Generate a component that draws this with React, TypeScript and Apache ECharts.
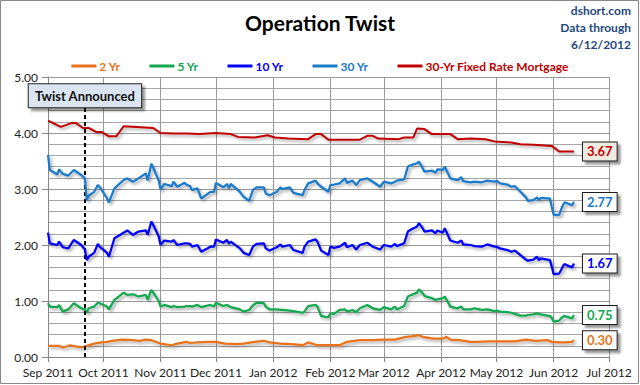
import React, { useEffect, useRef } from 'react';
import * as echarts from 'echarts';

const seriesNames = ['2 Yr', '5 Yr', '10 Yr', '30 Yr', '30-Yr Fixed Rate Mortgage'];
const seriesColors = ['#e8731c', '#13a84f', '#0000ff', '#1a7acb', '#c00000'];
const endLabelBg = ['#ffffff', '#ffffff', '#ffffff', '#ffffff', '#eeece1'];

const treasuryDates = [
  '2011-09-01', '2011-09-02', '2011-09-06', '2011-09-07', '2011-09-09', '2011-09-12', '2011-09-15', '2011-09-19',
  '2011-09-21', '2011-09-22', '2011-09-23', '2011-09-26', '2011-09-28', '2011-09-29', '2011-10-03', '2011-10-04',
  '2011-10-07', '2011-10-12', '2011-10-14', '2011-10-17', '2011-10-20', '2011-10-24', '2011-10-25', '2011-10-27',
  '2011-10-28', '2011-10-31', '2011-11-01', '2011-11-03', '2011-11-07', '2011-11-08', '2011-11-10', '2011-11-14',
  '2011-11-15', '2011-11-17', '2011-11-18', '2011-11-21', '2011-11-23', '2011-11-28', '2011-11-30', '2011-12-01',
  '2011-12-05', '2011-12-07', '2011-12-08', '2011-12-09', '2011-12-14', '2011-12-16', '2011-12-19', '2011-12-21',
  '2011-12-23', '2011-12-27', '2011-12-28', '2011-12-30', '2012-01-03', '2012-01-05', '2012-01-06', '2012-01-10',
  '2012-01-12', '2012-01-17', '2012-01-18', '2012-01-20', '2012-01-24', '2012-01-25', '2012-01-27', '2012-01-31',
  '2012-02-01', '2012-02-03', '2012-02-06', '2012-02-09', '2012-02-10', '2012-02-13', '2012-02-15', '2012-02-17',
  '2012-02-21', '2012-02-24', '2012-02-28', '2012-03-01', '2012-03-05', '2012-03-07', '2012-03-08', '2012-03-12',
  '2012-03-14', '2012-03-16', '2012-03-19', '2012-03-20', '2012-03-22', '2012-03-23', '2012-03-27', '2012-03-29',
  '2012-03-30', '2012-04-02', '2012-04-03', '2012-04-06', '2012-04-10', '2012-04-12', '2012-04-13', '2012-04-17',
  '2012-04-19', '2012-04-23', '2012-04-26', '2012-04-30', '2012-05-01', '2012-05-03', '2012-05-07', '2012-05-09',
  '2012-05-11', '2012-05-14', '2012-05-17', '2012-05-18', '2012-05-21', '2012-05-23', '2012-05-24', '2012-05-25',
  '2012-05-30', '2012-05-31', '2012-06-01', '2012-06-04', '2012-06-05', '2012-06-06', '2012-06-07', '2012-06-08',
  '2012-06-11', '2012-06-12',
];

const thirtyYr = [
  3.61, 3.34, 3.26, 3.35, 3.27, 3.24, 3.34, 3.25,
  3.19, 2.80, 2.88, 2.95, 3.07, 3.04, 2.83, 2.76,
  3.01, 3.16, 3.19, 3.13, 3.19, 3.28, 3.15, 3.45,
  3.38, 3.15, 2.99, 3.09, 3.05, 3.13, 3.04, 3.11,
  3.08, 3.05, 2.98, 3.01, 2.83, 2.95, 2.95, 3.11,
  3.03, 3.09, 3.01, 3.09, 2.95, 2.86, 2.79, 2.98,
  3.03, 3.03, 2.92, 2.89, 2.95, 3.03, 3.00, 3.03,
  2.93, 2.89, 2.98, 3.10, 3.15, 3.10, 3.04, 2.95,
  3.07, 3.08, 3.10, 3.19, 3.11, 3.15, 3.07, 3.16,
  3.19, 3.13, 3.04, 3.13, 3.10, 3.13, 3.15, 3.17,
  3.40, 3.43, 3.46, 3.49, 3.37, 3.31, 3.33, 3.29,
  3.35, 3.34, 3.40, 3.19, 3.16, 3.21, 3.14, 3.12,
  3.13, 3.12, 3.15, 3.13, 3.15, 3.10, 3.08, 3.04,
  3.05, 2.95, 2.85, 2.79, 2.80, 2.85, 2.80, 2.84,
  2.83, 2.68, 2.54, 2.54, 2.63, 2.71, 2.76, 2.75,
  2.71, 2.77,
];

const tenYr = [
  2.22, 2.03, 2.00, 2.06, 1.96, 1.94, 2.09, 2.00,
  1.92, 1.73, 1.79, 1.86, 2.02, 1.97, 1.86, 1.79,
  2.12, 2.22, 2.26, 2.18, 2.24, 2.26, 2.18, 2.42,
  2.36, 2.15, 2.00, 2.08, 2.06, 2.09, 2.00, 2.03,
  2.03, 2.02, 1.97, 2.00, 1.88, 1.97, 1.97, 2.10,
  2.04, 2.09, 2.02, 2.06, 1.94, 1.86, 1.82, 1.97,
  2.02, 2.03, 1.94, 1.90, 1.96, 2.01, 1.97, 2.00,
  1.91, 1.86, 1.97, 2.06, 2.10, 2.06, 1.90, 1.82,
  1.97, 1.95, 1.97, 2.04, 1.96, 2.00, 1.92, 2.00,
  2.04, 1.97, 1.92, 2.00, 1.97, 2.02, 1.98, 2.03,
  2.24, 2.28, 2.33, 2.39, 2.30, 2.24, 2.26, 2.21,
  2.26, 2.22, 2.30, 2.08, 2.04, 2.08, 2.01, 2.00,
  1.98, 1.97, 2.01, 1.97, 1.97, 1.94, 1.91, 1.88,
  1.90, 1.82, 1.74, 1.72, 1.74, 1.79, 1.73, 1.76,
  1.73, 1.61, 1.48, 1.49, 1.55, 1.62, 1.66, 1.64,
  1.60, 1.67,
];

const fiveYr = [
  0.96, 0.90, 0.89, 0.93, 0.81, 0.85, 0.96, 0.87,
  0.85, 0.79, 0.87, 0.90, 0.97, 0.96, 0.90, 0.85,
  1.02, 1.15, 1.11, 1.12, 1.08, 1.11, 1.02, 1.20,
  1.15, 1.00, 0.90, 0.93, 0.89, 0.91, 0.89, 0.90,
  0.91, 0.91, 0.90, 0.93, 0.89, 0.93, 0.90, 0.97,
  0.91, 0.93, 0.91, 0.89, 0.85, 0.81, 0.84, 0.92,
  0.97, 0.96, 0.90, 0.85, 0.85, 0.84, 0.84, 0.83,
  0.82, 0.79, 0.81, 0.91, 0.93, 0.90, 0.73, 0.71,
  0.78, 0.77, 0.84, 0.85, 0.81, 0.84, 0.80, 0.87,
  0.93, 0.87, 0.84, 0.89, 0.85, 0.90, 0.85, 0.91,
  1.08, 1.11, 1.15, 1.21, 1.14, 1.09, 1.05, 1.02,
  1.03, 1.05, 1.08, 0.90, 0.87, 0.90, 0.85, 0.85,
  0.87, 0.84, 0.85, 0.82, 0.83, 0.81, 0.80, 0.79,
  0.77, 0.74, 0.74, 0.75, 0.76, 0.78, 0.77, 0.76,
  0.73, 0.70, 0.63, 0.65, 0.69, 0.72, 0.73, 0.72,
  0.69, 0.75,
];

const twoYrDates = [
  '2011-09-01', '2011-09-07', '2011-09-09', '2011-09-13', '2011-09-16', '2011-09-19', '2011-09-22', '2011-09-26',
  '2011-09-30', '2011-10-03', '2011-10-06', '2011-10-11', '2011-10-17', '2011-10-21', '2011-10-24', '2011-10-27',
  '2011-11-01', '2011-11-07', '2011-11-10', '2011-11-15', '2011-11-17', '2011-11-21', '2011-11-28', '2011-12-01',
  '2011-12-06', '2011-12-12', '2011-12-16', '2011-12-22', '2011-12-27', '2011-12-30', '2012-01-05', '2012-01-11',
  '2012-01-17', '2012-01-20', '2012-01-25', '2012-01-31', '2012-02-06', '2012-02-10', '2012-02-17', '2012-02-24',
  '2012-03-01', '2012-03-07', '2012-03-13', '2012-03-16', '2012-03-20', '2012-03-22', '2012-03-28', '2012-04-02',
  '2012-04-04', '2012-04-06', '2012-04-11', '2012-04-17', '2012-04-20', '2012-04-27', '2012-05-07', '2012-05-11',
  '2012-05-17', '2012-05-22', '2012-05-29', '2012-05-31', '2012-06-04', '2012-06-07', '2012-06-11', '2012-06-12',
];
const twoYr = [
  0.20, 0.20, 0.17, 0.21, 0.19, 0.17, 0.20, 0.24,
  0.26, 0.27, 0.29, 0.31, 0.30, 0.29, 0.31, 0.30,
  0.24, 0.21, 0.24, 0.27, 0.25, 0.26, 0.27, 0.27,
  0.24, 0.23, 0.24, 0.27, 0.29, 0.26, 0.24, 0.23,
  0.21, 0.26, 0.21, 0.21, 0.21, 0.27, 0.30, 0.30,
  0.31, 0.31, 0.36, 0.37, 0.39, 0.36, 0.33, 0.33,
  0.36, 0.31, 0.30, 0.27, 0.27, 0.28, 0.28, 0.28,
  0.31, 0.29, 0.30, 0.27, 0.26, 0.26, 0.27, 0.30,
];

const mortgageDates = [
  '2011-09-01', '2011-09-08', '2011-09-14', '2011-09-16', '2011-09-20', '2011-09-23', '2011-09-27', '2011-09-30',
  '2011-10-04', '2011-10-08', '2011-10-12', '2011-10-28', '2011-11-01', '2011-11-08', '2011-11-15', '2011-11-22',
  '2011-12-01', '2011-12-09', '2011-12-13', '2011-12-22', '2011-12-29', '2012-01-02', '2012-01-09', '2012-01-20',
  '2012-01-24', '2012-01-27', '2012-01-31', '2012-02-17', '2012-02-21', '2012-02-24', '2012-02-27', '2012-03-09',
  '2012-03-12', '2012-03-17', '2012-03-19', '2012-03-23', '2012-03-27', '2012-04-06', '2012-04-10', '2012-04-17',
  '2012-04-25', '2012-04-30', '2012-05-09', '2012-05-14', '2012-05-21', '2012-05-31', '2012-06-04', '2012-06-12',
];
const mortgage = [
  4.22, 4.11, 4.18, 4.18, 4.09, 4.09, 4.02, 4.02,
  3.94, 3.94, 4.12, 4.09, 4.00, 3.99, 3.99, 3.98,
  4.00, 3.98, 3.93, 3.92, 3.96, 3.92, 3.90, 3.89,
  3.98, 3.98, 3.88, 3.88, 3.95, 3.95, 3.90, 3.89,
  3.92, 3.92, 4.08, 4.07, 3.98, 3.98, 3.89, 3.90,
  3.89, 3.85, 3.83, 3.80, 3.79, 3.77, 3.67, 3.67,
];

const twistDate = '2011-09-21';
const twistLabel = 'Twist Announced';
const twistLineTop = 4.46;
const xMin = '2011-09-01';
const xMax = '2012-07-01';
const yMin = 0;
const yMax = 5;
const yInterval = 1;
const monthNames = ['Jan', 'Feb', 'Mar', 'Apr', 'May', 'Jun', 'Jul', 'Aug', 'Sep', 'Oct', 'Nov', 'Dec'];
const titleText = 'Operation Twist';
const sourceLines = ['dshort.com', 'Data through', '6/12/2012'];

const FONT = 'Lato, "Open Sans", sans-serif';

function zip(dates: string[], vals: number[]) {
  return dates.map((d, i) => [d, vals[i]]);
}

export default function App() {
  const ref = useRef<HTMLDivElement>(null);

  useEffect(() => {
    document.body.style.margin = '0';
    if (!ref.current) return;
    const chart = echarts.init(ref.current, undefined, { renderer: 'svg' });

    const seriesData = [
      zip(twoYrDates, twoYr),
      zip(treasuryDates, fiveYr),
      zip(treasuryDates, tenYr),
      zip(treasuryDates, thirtyYr),
      zip(mortgageDates, mortgage),
    ];

    const series: any[] = seriesNames.map((name, i) => ({
      name,
      type: 'line',
      data: seriesData[i],
      symbol: 'none',
      z: 3 + i,
      lineStyle: {
        color: seriesColors[i],
        width: i === 4 ? 2 : 2.25,
        shadowColor: 'rgba(0,0,0,0.35)',
        shadowBlur: 3,
        shadowOffsetX: 2,
        shadowOffsetY: 2,
      },
      itemStyle: { color: seriesColors[i] },
      endLabel: {
        show: true,
        formatter: (p: any) => Number(p.value[1]).toFixed(2),
        color: seriesColors[i],
        fontFamily: FONT,
        fontWeight: 'bold',
        fontSize: 13,
        lineHeight: 15,
        backgroundColor: endLabelBg[i],
        borderColor: '#1a1a1a',
        borderWidth: 1,
        padding: [2, 4, 1, 4],
        distance: 9,
        shadowColor: 'rgba(0,0,0,0.4)',
        shadowBlur: 2,
        shadowOffsetX: 3,
        shadowOffsetY: 3,
      },
    }));

    series[0].markLine = {
      silent: true,
      symbol: 'none',
      animation: false,
      lineStyle: { color: '#000', width: 2, type: [4, 3] },
      label: {
        show: true,
        position: 'end',
        formatter: twistLabel,
        distance: 0,
        color: '#111',
        fontFamily: FONT,
        fontWeight: 'bold',
        fontSize: 13,
        lineHeight: 16,
        backgroundColor: '#dbe5f1',
        borderColor: '#222',
        borderWidth: 1,
        padding: [4, 6, 3, 6],
        shadowColor: 'rgba(0,0,0,0.4)',
        shadowBlur: 2,
        shadowOffsetX: 3,
        shadowOffsetY: 3,
      },
      data: [[{ coord: [twistDate, 0] }, { coord: [twistDate, twistLineTop] }]],
    };

    chart.setOption({
      animation: false,
      backgroundColor: '#ffffff',
      textStyle: { fontFamily: FONT },
      title: {
        text: titleText,
        left: 'center',
        top: 7,
        textStyle: { fontFamily: FONT, fontSize: 21, fontWeight: 'bold', color: '#000' },
      },
      legend: {
        top: 55,
        left: 'center',
        icon: 'rect',
        itemWidth: 25,
        itemHeight: 3,
        itemGap: 29,
        textStyle: { fontFamily: FONT, fontSize: 12, fontWeight: 'bold', padding: [0, 0, 0, -2] },
        data: seriesNames.map((n, i) => ({ name: n, textStyle: { color: seriesColors[i] } })),
      },
      grid: { left: 48, right: 31, top: 77, bottom: 28 },
      xAxis: {
        type: 'time',
        min: xMin,
        max: xMax,
        splitNumber: 10,
        minInterval: 28 * 86400000,
        maxInterval: 31 * 86400000,
        axisLine: { show: true, lineStyle: { color: '#868686' } },
        axisTick: { show: true, length: 5, lineStyle: { color: '#868686' } },
        splitLine: { show: true, lineStyle: { color: '#9a9a9a', width: 1 } },
        axisLabel: {
          color: '#222',
          fontSize: 12,
          fontFamily: FONT,
          margin: 9,
          showMinLabel: true,
          showMaxLabel: true,
          hideOverlap: false,
          formatter: (v: number) => {
            const d = new Date(v);
            return monthNames[d.getMonth()] + ' ' + d.getFullYear();
          },
        },
      },
      yAxis: {
        type: 'value',
        min: yMin,
        max: yMax,
        interval: yInterval,
        axisLine: { show: true, lineStyle: { color: '#868686' } },
        axisTick: { show: true, length: 6, lineStyle: { color: '#868686' } },
        minorTick: { show: false, splitNumber: 5 },
        splitLine: { show: true, lineStyle: { color: '#9a9a9a', width: 1 } },
        minorSplitLine: { show: true, lineStyle: { color: '#a6a6a6', width: 1 } },
        axisLabel: {
          color: '#222',
          fontSize: 12,
          fontFamily: FONT,
          margin: 10,
          formatter: (v: number) => v.toFixed(2),
        },
      },
      graphic: [
        {
          type: 'rect',
          z: -10,
          shape: { x: 0.5, y: 0.5, width: 638, height: 383 },
          style: { fill: 'none', stroke: '#888', lineWidth: 1 },
        },
        ...sourceLines.map((t, i) => ({
          type: 'text',
          x: 631,
          y: 10 + i * 17,
          style: {
            text: t,
            textAlign: 'right',
            textVerticalAlign: 'middle',
            font: 'bold 12px ' + FONT,
            fill: '#1f497d',
          },
        })),
      ],
      series,
    });

    return () => chart.dispose();
  }, []);

  return (
    <div
      ref={ref}
      style={{ position: 'absolute', left: 0, top: 0, width: 640, height: 385 }}
    />
  );
}
